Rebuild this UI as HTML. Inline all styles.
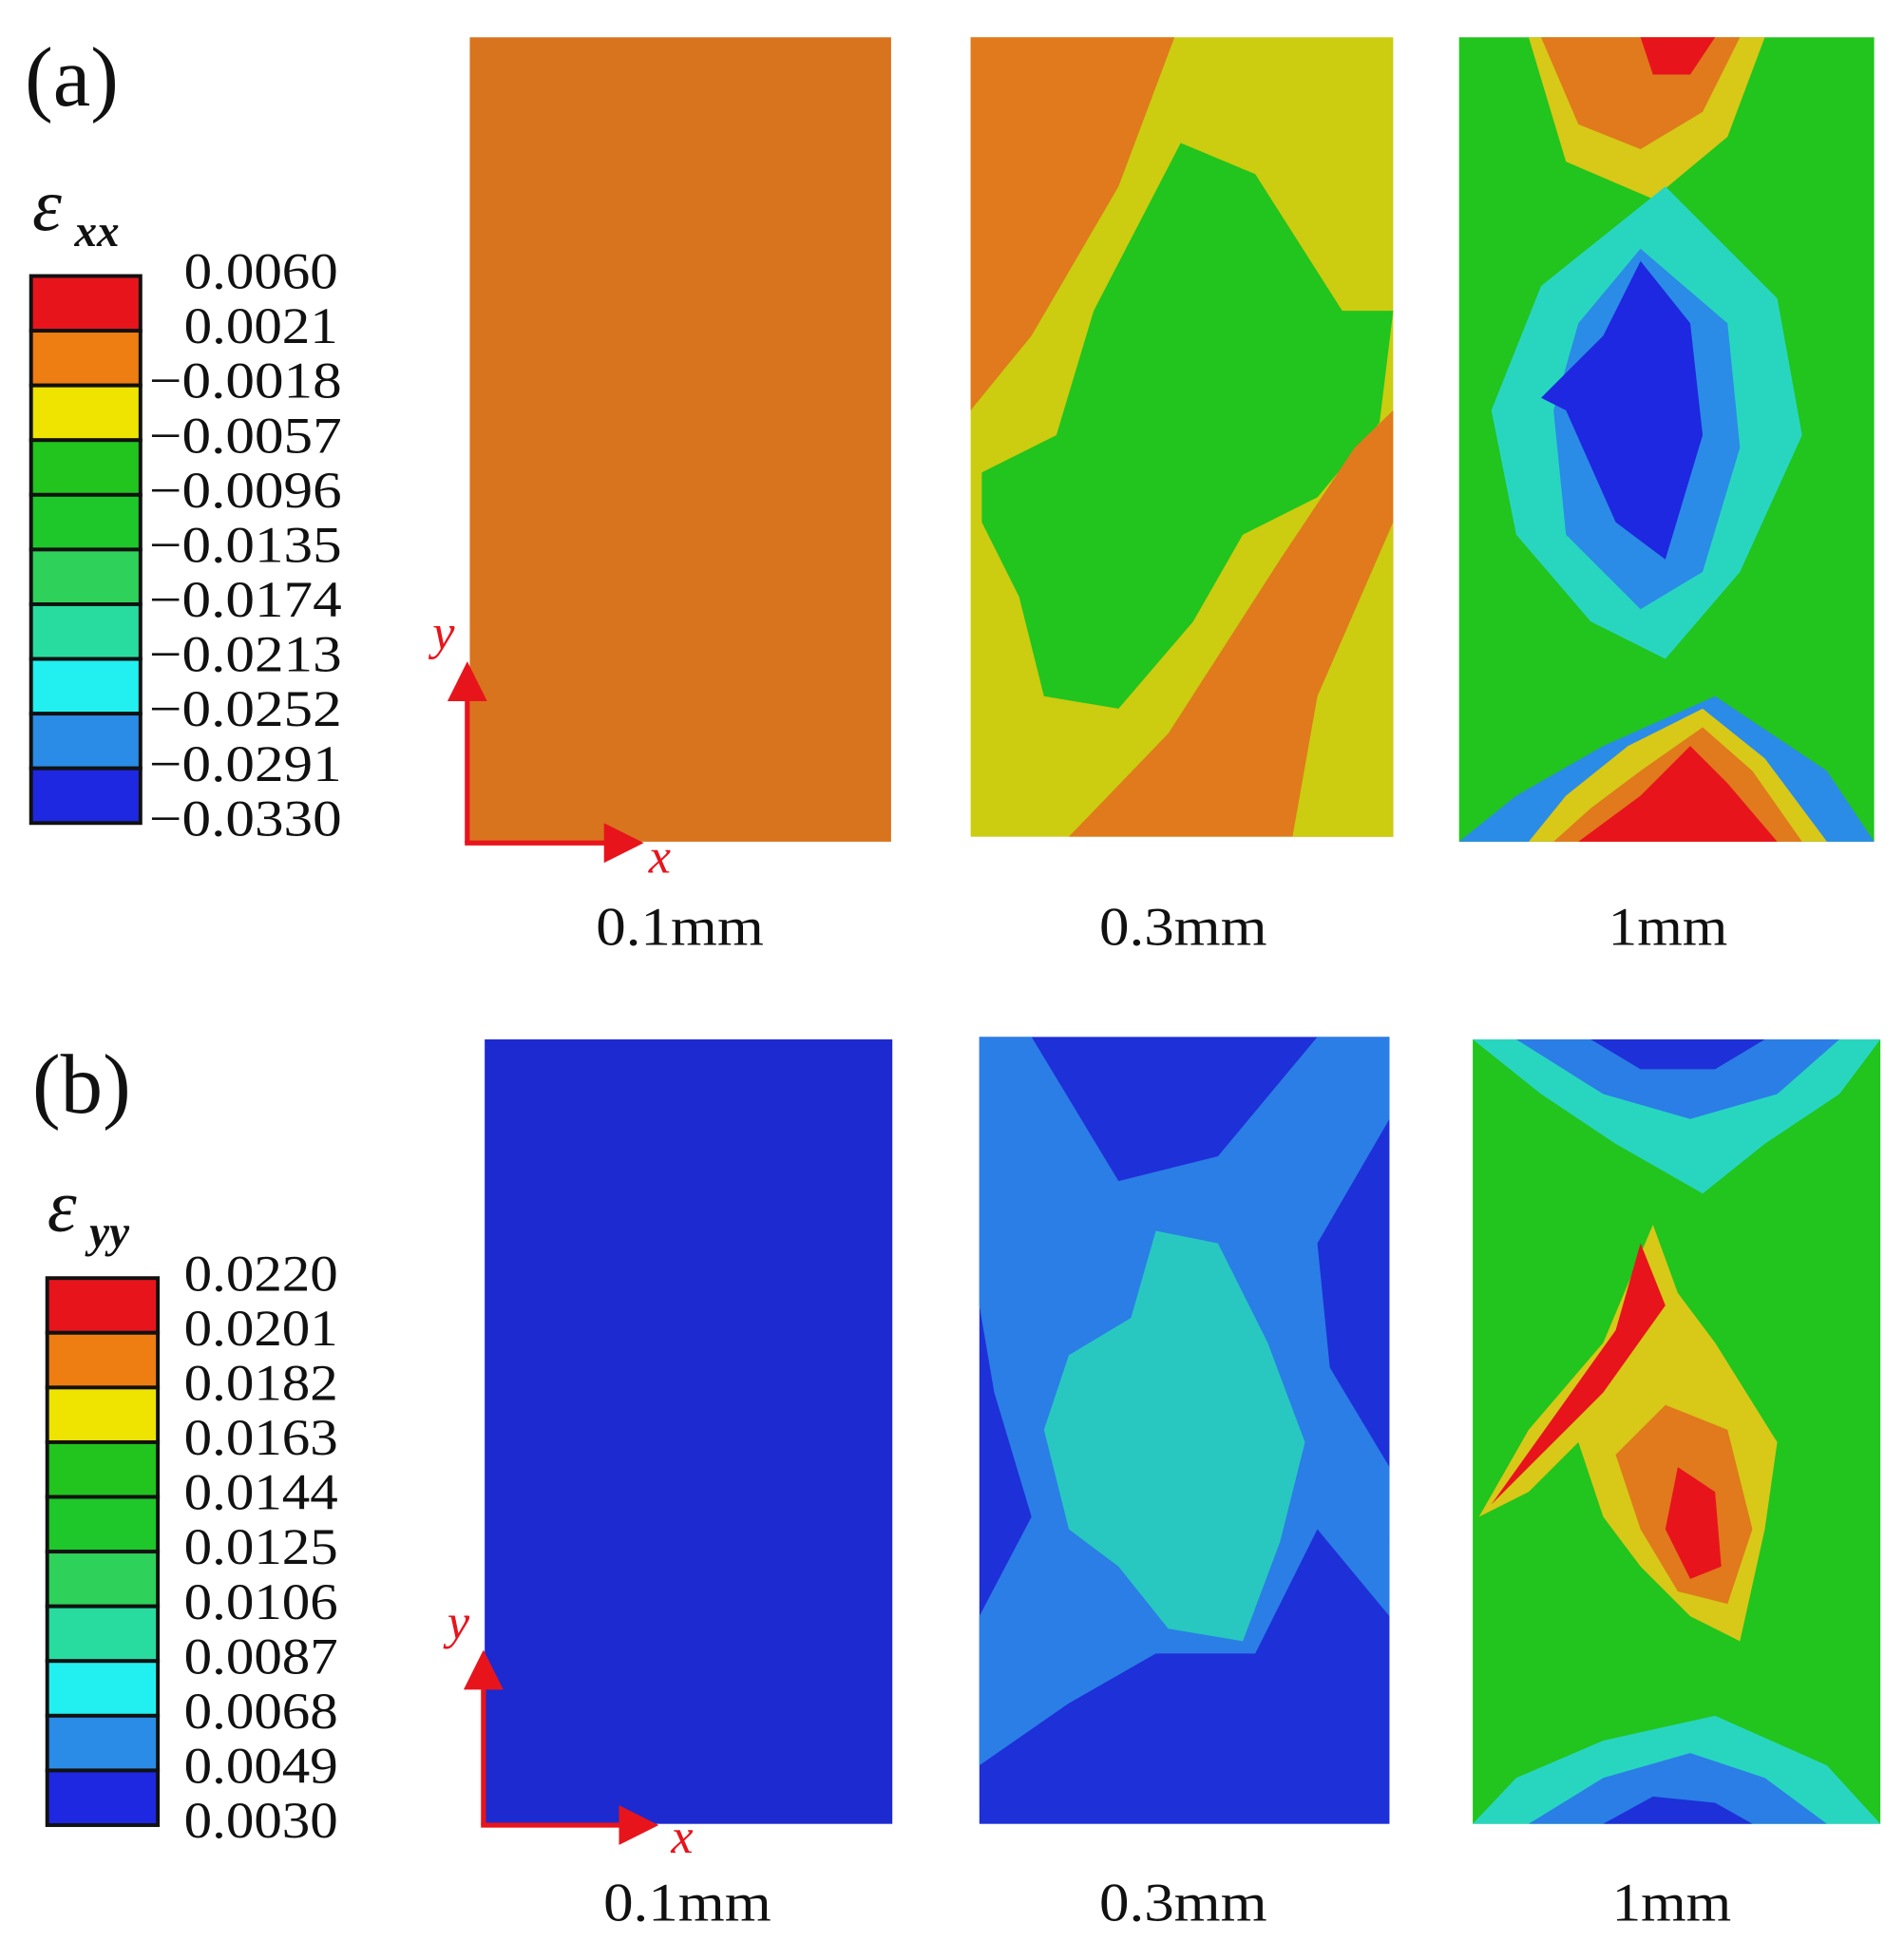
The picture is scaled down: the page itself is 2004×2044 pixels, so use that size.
<!DOCTYPE html>
<html><head><meta charset="utf-8"><style>
html,body{margin:0;padding:0;background:#fff;}
svg{display:block;}
text{font-family:"Liberation Serif",serif;fill:#111;}
</style></head><body>
<svg width="2004" height="2044" viewBox="0 0 1532 1562" preserveAspectRatio="none" xmlns="http://www.w3.org/2000/svg">
<defs>
<marker id="ar" markerWidth="8" markerHeight="8" refX="6" refY="4" orient="auto" markerUnits="strokeWidth"><path d="M0,0 L8,4 L0,8 Z" fill="#e8141c"/></marker>
</defs>
<!-- (a) -->
<text x="20" y="85" font-size="68">(a)</text>
<text x="26" y="185" font-size="60" font-style="italic">ε</text>
<text x="60" y="198" font-size="36" font-style="italic" font-weight="bold">xx</text>
<g stroke="#111" stroke-width="3">
<rect x="25" y="222" width="88" height="44" fill="#e8141c"/>
<rect x="25" y="266" width="88" height="44" fill="#ee7d12"/>
<rect x="25" y="310" width="88" height="44" fill="#eee400"/>
<rect x="25" y="354" width="88" height="44" fill="#22c41e"/>
<rect x="25" y="398" width="88" height="44" fill="#1ec82a"/>
<rect x="25" y="442" width="88" height="44" fill="#2ed25a"/>
<rect x="25" y="486" width="88" height="44" fill="#28dca0"/>
<rect x="25" y="530" width="88" height="44" fill="#22f0f0"/>
<rect x="25" y="574" width="88" height="44" fill="#2a8ce6"/>
<rect x="25" y="618" width="88" height="44" fill="#1e28e0"/>
</g>
<g font-size="41">
<text x="148" y="232" textLength="124" lengthAdjust="spacingAndGlyphs">0.0060</text>
<text x="148" y="276" textLength="124" lengthAdjust="spacingAndGlyphs">0.0021</text>
<text x="120" y="320" textLength="155" lengthAdjust="spacingAndGlyphs">−0.0018</text>
<text x="120" y="364" textLength="155" lengthAdjust="spacingAndGlyphs">−0.0057</text>
<text x="120" y="408" textLength="155" lengthAdjust="spacingAndGlyphs">−0.0096</text>
<text x="120" y="452" textLength="155" lengthAdjust="spacingAndGlyphs">−0.0135</text>
<text x="120" y="496" textLength="155" lengthAdjust="spacingAndGlyphs">−0.0174</text>
<text x="120" y="540" textLength="155" lengthAdjust="spacingAndGlyphs">−0.0213</text>
<text x="120" y="584" textLength="155" lengthAdjust="spacingAndGlyphs">−0.0252</text>
<text x="120" y="628" textLength="155" lengthAdjust="spacingAndGlyphs">−0.0291</text>
<text x="120" y="672" textLength="155" lengthAdjust="spacingAndGlyphs">−0.0330</text>
</g>
<!-- a1 -->
<rect x="378" y="30" width="339" height="647" fill="#d8741e"/>
<!-- a2 -->
<rect x="781" y="30" width="340" height="643" fill="#cccc10"/>
<polygon points="781,30 945,30 900,150 830,270 781,330" fill="#e07a1c"/>
<polygon points="950,115 1010,140 1080,250 1121,250 1110,340 1060,400 1000,430 960,500 900,570 840,560 820,480 790,420 790,380 850,350 880,250" fill="#22c41e"/>
<polygon points="1121,330 1121,673 860,673 940,590 1030,450 1090,360" fill="#e07a1c"/>
<polygon points="1121,420 1121,673 1040,673 1060,560" fill="#cccc10"/>
<!-- a3 -->
<rect x="1174" y="30" width="334" height="647" fill="#22c41e"/>
<polygon points="1230,30 1420,30 1390,110 1330,160 1260,130" fill="#d8c818"/>
<polygon points="1240,30 1400,30 1370,90 1320,120 1270,100" fill="#e07a1c"/>
<polygon points="1320,30 1380,30 1360,60 1330,60" fill="#e8141c"/>
<polygon points="1340,150 1430,240 1450,350 1400,460 1340,530 1280,500 1220,430 1200,330 1240,230" fill="#28d6c0"/>
<polygon points="1320,200 1390,260 1400,360 1370,460 1320,490 1260,430 1250,330 1270,260" fill="#2a8ce6"/>
<polygon points="1320,210 1360,260 1370,350 1340,450 1300,420 1260,330 1240,320 1290,270" fill="#1e28e0"/>
<polygon points="1174,677 1508,677 1470,620 1380,560 1290,600 1220,640" fill="#2a8ce6"/>
<polygon points="1230,677 1470,677 1420,610 1370,570 1310,600 1260,640" fill="#d8c818"/>
<polygon points="1250,677 1450,677 1410,620 1370,585 1320,620 1280,650" fill="#e07a1c"/>
<polygon points="1270,677 1430,677 1390,630 1360,600 1320,640" fill="#e8141c"/>
<!-- axes a -->
<line x1="376" y1="678" x2="376" y2="540" stroke="#e8141c" stroke-width="4" marker-end="url(#ar)"/>
<line x1="374" y1="678" x2="510" y2="678" stroke="#e8141c" stroke-width="4" marker-end="url(#ar)"/>
<text x="348" y="522" font-size="40" font-style="italic" style="fill:#e8141c">y</text>
<text x="522" y="702" font-size="40" font-style="italic" style="fill:#e8141c">x</text>
<g font-size="44" text-anchor="middle">
<text x="547" y="760" textLength="135" lengthAdjust="spacingAndGlyphs">0.1mm</text>
<text x="952" y="760" textLength="135" lengthAdjust="spacingAndGlyphs">0.3mm</text>
<text x="1342" y="760" textLength="96" lengthAdjust="spacingAndGlyphs">1mm</text>
</g>
<!-- (b) -->
<text x="26" y="895" font-size="68">(b)</text>
<text x="38" y="990" font-size="60" font-style="italic">ε</text>
<text x="72" y="1003" font-size="36" font-style="italic" font-weight="bold">yy</text>
<g stroke="#111" stroke-width="3">
<rect x="38" y="1028" width="89" height="44" fill="#e8141c"/>
<rect x="38" y="1072" width="89" height="44" fill="#ee7d12"/>
<rect x="38" y="1116" width="89" height="44" fill="#eee400"/>
<rect x="38" y="1160" width="89" height="44" fill="#22c41e"/>
<rect x="38" y="1204" width="89" height="44" fill="#1ec82a"/>
<rect x="38" y="1248" width="89" height="44" fill="#2ed25a"/>
<rect x="38" y="1292" width="89" height="44" fill="#28dca0"/>
<rect x="38" y="1336" width="89" height="44" fill="#22f0f0"/>
<rect x="38" y="1380" width="89" height="44" fill="#2a8ce6"/>
<rect x="38" y="1424" width="89" height="44" fill="#1e28e0"/>
</g>
<g font-size="41">
<text x="148" y="1038" textLength="124" lengthAdjust="spacingAndGlyphs">0.0220</text>
<text x="148" y="1082" textLength="124" lengthAdjust="spacingAndGlyphs">0.0201</text>
<text x="148" y="1126" textLength="124" lengthAdjust="spacingAndGlyphs">0.0182</text>
<text x="148" y="1170" textLength="124" lengthAdjust="spacingAndGlyphs">0.0163</text>
<text x="148" y="1214" textLength="124" lengthAdjust="spacingAndGlyphs">0.0144</text>
<text x="148" y="1258" textLength="124" lengthAdjust="spacingAndGlyphs">0.0125</text>
<text x="148" y="1302" textLength="124" lengthAdjust="spacingAndGlyphs">0.0106</text>
<text x="148" y="1346" textLength="124" lengthAdjust="spacingAndGlyphs">0.0087</text>
<text x="148" y="1390" textLength="124" lengthAdjust="spacingAndGlyphs">0.0068</text>
<text x="148" y="1434" textLength="124" lengthAdjust="spacingAndGlyphs">0.0049</text>
<text x="148" y="1478" textLength="124" lengthAdjust="spacingAndGlyphs">0.0030</text>
</g>
<!-- b1 -->
<rect x="390" y="836" width="328" height="631" fill="#1c2ad0"/>
<!-- b2 -->
<rect x="788" y="834" width="330" height="633" fill="#1e30d8"/>
<polygon points="788,834 830,834 900,950 980,930 1060,834 1118,834 1118,900 1060,1000 1070,1100 1118,1180 1118,1300 1060,1230 1010,1330 930,1330 860,1370 788,1420 788,1300 830,1220 800,1120 788,1050" fill="#2a7ee6"/>
<polygon points="930,990 980,1000 1020,1080 1050,1160 1030,1240 1000,1320 940,1310 900,1260 860,1230 840,1150 860,1090 910,1060" fill="#28c8c0"/>
<!-- b3 -->
<rect x="1185" y="836" width="328" height="631" fill="#22c41e"/>
<polygon points="1185,836 1513,836 1480,880 1420,920 1370,960 1300,920 1240,880" fill="#28d6c0"/>
<polygon points="1220,836 1480,836 1430,880 1360,900 1290,880" fill="#2a7ee6"/>
<polygon points="1280,836 1420,836 1380,860 1320,860" fill="#1e30d8"/>
<polygon points="1185,1467 1513,1467 1470,1420 1380,1380 1290,1400 1220,1430" fill="#28d6c0"/>
<polygon points="1230,1467 1470,1467 1420,1430 1360,1410 1290,1430" fill="#2a7ee6"/>
<polygon points="1290,1467 1410,1467 1380,1450 1330,1445" fill="#1e30d8"/>
<polygon points="1330,985 1350,1040 1380,1080 1430,1160 1420,1230 1400,1320 1360,1300 1320,1260 1290,1220 1270,1160 1230,1200 1190,1220 1230,1150 1290,1080" fill="#d8c818"/>
<polygon points="1320,1000 1340,1050 1290,1120 1240,1170 1200,1210 1250,1140 1300,1070" fill="#e8141c"/>
<polygon points="1340,1130 1390,1150 1410,1230 1390,1290 1350,1280 1320,1230 1300,1170" fill="#e07a1c"/>
<polygon points="1350,1180 1380,1200 1385,1260 1360,1270 1340,1230" fill="#e8141c"/>
<!-- axes b -->
<line x1="389" y1="1468" x2="389" y2="1335" stroke="#e8141c" stroke-width="4" marker-end="url(#ar)"/>
<line x1="387" y1="1468" x2="522" y2="1468" stroke="#e8141c" stroke-width="4" marker-end="url(#ar)"/>
<text x="360" y="1318" font-size="40" font-style="italic" style="fill:#e8141c">y</text>
<text x="540" y="1490" font-size="40" font-style="italic" style="fill:#e8141c">x</text>
<g font-size="44" text-anchor="middle">
<text x="553" y="1545" textLength="135" lengthAdjust="spacingAndGlyphs">0.1mm</text>
<text x="952" y="1545" textLength="135" lengthAdjust="spacingAndGlyphs">0.3mm</text>
<text x="1345" y="1545" textLength="96" lengthAdjust="spacingAndGlyphs">1mm</text>
</g>
</svg>
</body></html>
